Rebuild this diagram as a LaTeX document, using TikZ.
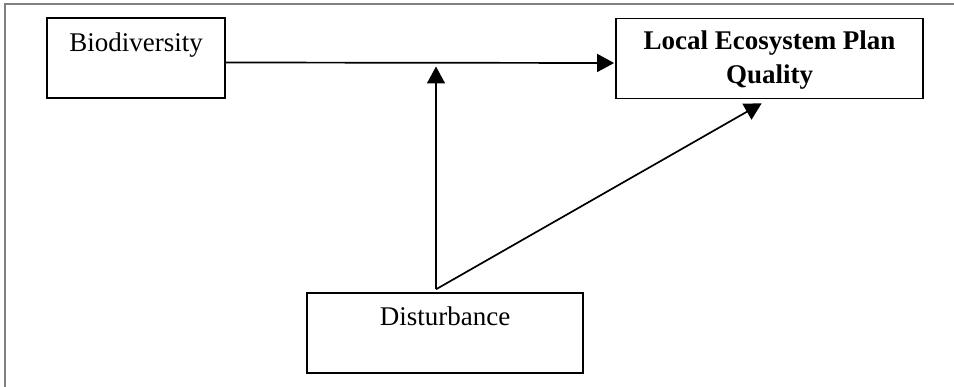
\documentclass[tikz,border=0pt]{standalone}
\usepackage{fontspec}
\setmainfont{Liberation Serif}
\usetikzlibrary{arrows.meta}
\begin{document}
\begin{tikzpicture}[x=1pt,y=-1pt,
  box/.style={draw=black, line width=1.8pt, rectangle, inner sep=0pt},
  lbl/.style={anchor=base, inner sep=0pt, font=\fontsize{27}{33}\selectfont},
  arr/.style={draw=black, line width=1.7pt, -{Triangle[length=17pt,width=18pt]}},
  frame/.style={draw=black!50, line width=1.8pt}]
\useasboundingbox (0,0) rectangle (954,387);
% outer frame (top and left only)
\draw[frame] (4.7,387) -- (4.7,4) -- (954,4);
% boxes
\node[box, minimum width=178pt, minimum height=80pt] (bio) at (136,58) {};
\node[box, minimum width=307pt, minimum height=80pt] (lep) at (769.5,58.5) {};
\node[box, minimum width=276pt, minimum height=80pt] (dist) at (445,333) {};
% labels
\node[lbl] (biot) at (136,52) {Biodiversity};
\node[lbl] (lept) at (769.5,50) {\textbf{Local Ecosystem Plan}};
\node[lbl] (lept2) at (769.5,83.5) {\textbf{Quality}};
\node[lbl] (distt) at (445,326) {Disturbance};
% connector points
\coordinate (j) at (436,289.3);
\coordinate (mod) at (436,66.5);
\coordinate (diagtip) at (761.7,103.3);
% connectors
\draw[arr] ([yshift=-4.5pt]bio.east) -- ([yshift=-4.5pt,xshift=-1pt]lep.west);
\draw[arr] (j) -- (mod);
\draw[arr] (j) -- (diagtip);
\end{tikzpicture}
\end{document}
